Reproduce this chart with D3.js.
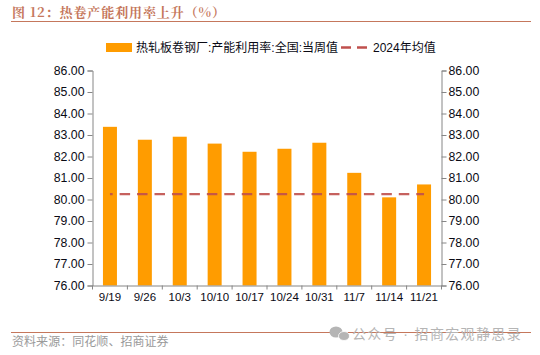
<!DOCTYPE html>
<html>
<head>
<meta charset="utf-8">
<script src="https://cdn.jsdelivr.net/npm/d3@7"></script>
<style>
	html, body { margin: 0; padding: 0; background: #fff; }
	svg { display: block; }
	text { font-family: "Liberation Sans", "Noto Sans CJK SC", sans-serif; }
</style>
</head>
<body>
<div id="vizContainer"></div>
<script>
let w = 540;
let h = 355;

let dates = ["9/19", "9/26", "10/3", "10/10", "10/17", "10/24", "10/31", "11/7", "11/14", "11/21"];
let rates = [83.38, 82.78, 82.92, 82.6, 82.22, 82.36, 82.64, 81.24, 80.1, 80.7];
let avg2024 = [80.25, 80.25, 80.25, 80.25, 80.25, 80.25, 80.25, 80.25, 80.25, 80.25];
let yTicks = [76, 77, 78, 79, 80, 81, 82, 83, 84, 85, 86];

let titleText = "图 12：热卷产能利用率上升（%）";
let sourceText = "资料来源：同花顺、招商证券";
let barName = "热轧板卷钢厂:产能利用率:全国:当周值";
let lineName = "2024年均值";
let watermark = "公众号 · 招商宏观静思录";

let brown = "#c5775c";
let axisGrey = "#868686";
let barColor = "#ff9c00";
let lineColor = "#c0504d";

let viz = d3.select("#vizContainer").append("svg")
	.attr("width", w)
	.attr("height", h)
	.style("background-color", "white");

let xScale = d3.scaleBand().domain(dates).range([92.5, 441.5]);
let yScale = d3.scaleLinear().domain([76, 86]).range([285.5, 70.5]);

// header and footer
viz.append("text")
	.attr("x", 12).attr("y", 17)
	.attr("font-size", 13).attr("font-weight", 700)
	.attr("letter-spacing", 0.9)
	.style("font-family", "'Noto Serif CJK SC', 'Noto Sans CJK SC', sans-serif")
	.attr("fill", brown)
	.text(titleText);
viz.append("line").attr("x1", 11).attr("x2", 531).attr("y1", 21.5).attr("y2", 21.5)
	.attr("stroke", brown).attr("stroke-width", 1);
viz.append("line").attr("x1", 11).attr("x2", 531).attr("y1", 332.5).attr("y2", 332.5)
	.attr("stroke", brown).attr("stroke-width", 1);
viz.append("text")
	.attr("x", 12).attr("y", 346)
	.attr("font-size", 12).attr("letter-spacing", 0.05)
	.attr("fill", "#9a9a9a")
	.text(sourceText);

// bars
viz.append("g").selectAll("rect").data(rates).enter().append("rect")
	.attr("x", (d, i) => xScale(dates[i]) + xScale.bandwidth() / 2 - 7)
	.attr("width", 14)
	.attr("y", d => yScale(d))
	.attr("height", d => yScale(76) - yScale(d))
	.attr("fill", barColor);

// average line
let avgLine = d3.line()
	.x((d, i) => xScale(dates[i]) + xScale.bandwidth() / 2)
	.y(d => yScale(d));
viz.append("path")
	.datum(avg2024)
	.attr("d", avgLine)
	.attr("fill", "none")
	.attr("stroke", lineColor)
	.attr("stroke-width", 2.4)
	.attr("stroke-dasharray", "10.5 6.95")
	.attr("stroke-dashoffset", 7.8)
	.attr("stroke-opacity", 0.9);

// axes
function styleAxis(g) {
	g.selectAll("path, line").attr("stroke", axisGrey).attr("stroke-width", 1);
	g.selectAll("text").attr("font-size", 12.3).attr("fill", "#0a0a14");
}
let leftAxis = d3.axisLeft(yScale).tickValues(yTicks).tickSizeOuter(0).tickSize(5).tickPadding(3)
	.tickFormat(d3.format(".2f"));
let rightAxis = d3.axisRight(yScale).tickValues(yTicks).tickSizeOuter(0).tickSize(5).tickPadding(2)
	.tickFormat(d3.format(".2f"));

viz.append("g").attr("transform", "translate(92.5,0)").call(leftAxis).call(styleAxis);
viz.append("g").attr("transform", "translate(441.5,0)").call(rightAxis).call(styleAxis);

let bottom = viz.append("g").attr("transform", "translate(0,285.5)");
bottom.call(d3.axisBottom(xScale).tickSize(0).tickPadding(7)).call(styleAxis);
bottom.selectAll("text").attr("font-size", 11.5);
// ticks sit between the categories
bottom.selectAll(".sep").data(dates.concat(["end"])).enter().append("line")
	.attr("class", "sep")
	.attr("x1", (d, i) => i < dates.length ? xScale(d) : 441.5)
	.attr("x2", (d, i) => i < dates.length ? xScale(d) : 441.5)
	.attr("y1", 0).attr("y2", 4)
	.attr("stroke", axisGrey);

// legend
viz.append("rect").attr("x", 106).attr("y", 43).attr("width", 26).attr("height", 9).attr("fill", barColor);
viz.append("text").attr("x", 136).attr("y", 52).attr("font-size", 12).attr("fill", "#0a0a14").text(barName);
viz.append("line").attr("x1", 341).attr("x2", 367).attr("y1", 47.5).attr("y2", 47.5)
	.attr("stroke", lineColor).attr("stroke-width", 2.4).attr("stroke-dasharray", "10 6");
viz.append("text").attr("x", 373).attr("y", 52).attr("font-size", 12).attr("fill", "#0a0a14").text(lineName);

// watermark
let mark = viz.append("g").attr("fill", "#b5b5b5");
mark.append("ellipse").attr("cx", 336).attr("cy", 332).attr("rx", 6.5).attr("ry", 5.5);
mark.append("ellipse").attr("cx", 344).attr("cy", 336).attr("rx", 5.5).attr("ry", 4.5).attr("stroke", "white").attr("stroke-width", 0.8);
viz.append("text").attr("x", 352).attr("y", 339).attr("font-size", 14).attr("letter-spacing", 1.35)
	.attr("fill", "#b5b5b5").text(watermark);
</script>
</body>
</html>
